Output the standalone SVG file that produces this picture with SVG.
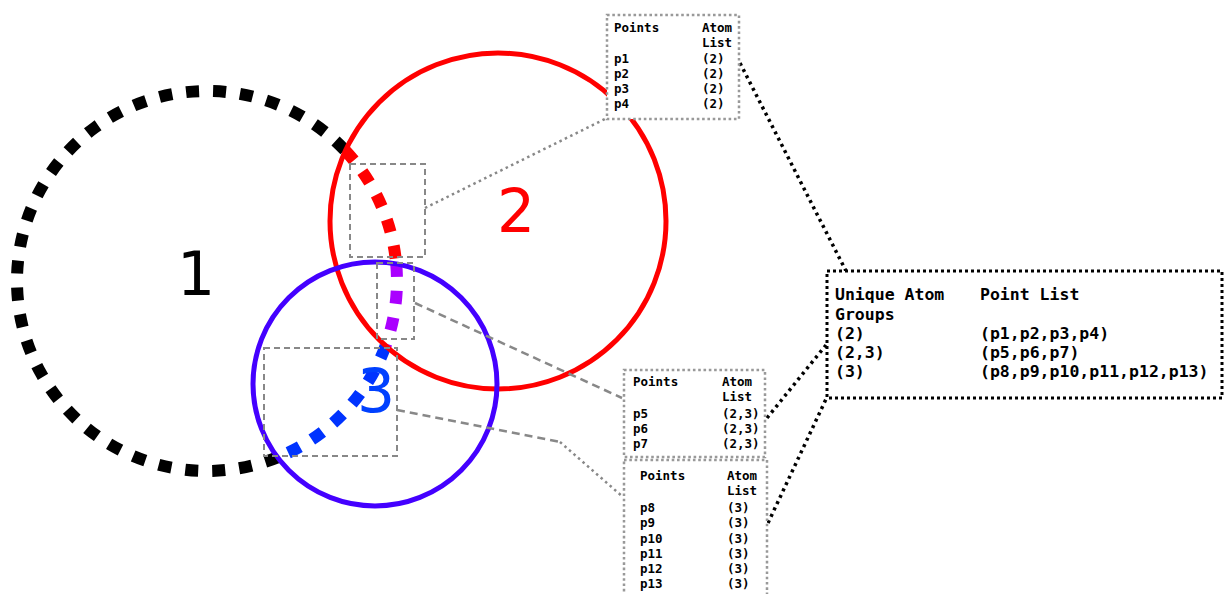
<svg xmlns="http://www.w3.org/2000/svg" width="1225" height="594" viewBox="0 0 1225 594">
  <style>
    .arc { fill: none; stroke-width: 12; stroke-dasharray: 13 14; }
    .ring { fill: none; stroke-width: 5; }
    .zoom { fill: none; stroke: #888; stroke-width: 2; stroke-dasharray: 6 4; }
    .tbl { fill: #fff; stroke: #999; stroke-width: 2.5; stroke-dasharray: 2.6 2.7; }
    .big { fill: #fff; stroke: #000; stroke-width: 3; stroke-dasharray: 3 3; }
    .lbl { font-family: "DejaVu Sans", sans-serif; font-size: 60px; text-anchor: middle; }
    .mono { font-family: "DejaVu Sans Mono", "Liberation Mono", monospace; font-weight: bold; font-size: 12.5px; fill: #000; }
    .mono-l { font-family: "DejaVu Sans Mono", "Liberation Mono", monospace; font-weight: bold; font-size: 16.5px; fill: #000; }
    .gdot { fill: none; stroke: #888; stroke-width: 2.5; stroke-dasharray: 2.5 3.5; }
    .gdash { fill: none; stroke: #888; stroke-width: 2.5; stroke-dasharray: 8 5; }
    .kdot { fill: none; stroke: #000; stroke-width: 3.5; stroke-dasharray: 3 4; }
  </style>

  <!-- atom 1: dotted circle, coloured where it lies inside atoms 2 and 3 -->
  <g id="atom1">
    <path class="arc" stroke="#000" d="M277.5,457.4 A190,190 0 1 1 345.3,150.7"/>
    <path class="arc" stroke="#ff0000" d="M345.3,150.7 A190,190 0 0 1 396.2,263.8"/>
    <path class="arc" stroke="#aa00ff" d="M396.2,263.8 A190,190 0 0 1 385.5,346"/>
    <path class="arc" stroke="#0033ff" d="M385.5,346 A190,190 0 0 1 277.5,457.4"/>
    <text class="lbl" x="196" y="295" fill="#000">1</text>
  </g>

  <g id="atom2">
    <circle class="ring" stroke="#ff0000" cx="498" cy="221" r="168"/>
    <text class="lbl" x="516" y="232" fill="#ff0000">2</text>
  </g>

  <g id="atom3">
    <circle class="ring" stroke="#4400ff" cx="375" cy="384" r="122"/>
    <text class="lbl" x="376" y="412" fill="#0040ff">3</text>
  </g>

  <!-- zoom regions on the surface -->
  <g id="region-a"><rect class="zoom" x="350" y="164" width="75" height="93"/></g>
  <g id="region-b"><rect class="zoom" x="377" y="263" width="37" height="76"/></g>
  <g id="region-c"><rect class="zoom" x="264" y="348" width="133" height="108"/></g>

  <!-- connectors -->
  <g id="connectors">
    <path class="gdot" d="M425,208 L607,118"/>
    <path class="gdash" d="M415,303 L622,398"/>
    <path class="gdash" d="M397,410 L560,442"/>
    <path class="gdot" d="M560,442 L623,497"/>
    <path class="kdot" d="M740,63 L846,271"/>
    <path class="kdot" d="M767,418 L826,345"/>
    <path class="kdot" d="M768,523 L827,397"/>
  </g>

  <!-- point tables -->
  <g id="table1">
    <rect class="tbl" x="607" y="15" width="132" height="104"/>
    <text class="mono" x="614" y="32">Points</text>
    <text class="mono" x="702" y="32">Atom</text>
    <text class="mono" x="702" y="47">List</text>
    <text class="mono" x="614" y="63">p1</text><text class="mono" x="702" y="63">(2)</text>
    <text class="mono" x="614" y="78">p2</text><text class="mono" x="702" y="78">(2)</text>
    <text class="mono" x="614" y="93">p3</text><text class="mono" x="702" y="93">(2)</text>
    <text class="mono" x="614" y="108">p4</text><text class="mono" x="702" y="108">(2)</text>
  </g>

  <g id="table2">
    <rect class="tbl" x="624" y="370" width="141" height="87"/>
    <text class="mono" x="633" y="386">Points</text>
    <text class="mono" x="722" y="386">Atom</text>
    <text class="mono" x="722" y="401">List</text>
    <text class="mono" x="633" y="418">p5</text><text class="mono" x="722" y="418">(2,3)</text>
    <text class="mono" x="633" y="433">p6</text><text class="mono" x="722" y="433">(2,3)</text>
    <text class="mono" x="633" y="448">p7</text><text class="mono" x="722" y="448">(2,3)</text>
  </g>

  <g id="table3">
    <rect class="tbl" x="624" y="460" width="143" height="140"/>
    <text class="mono" x="640" y="480">Points</text>
    <text class="mono" x="727" y="480">Atom</text>
    <text class="mono" x="727" y="495">List</text>
    <text class="mono" x="640" y="512">p8</text><text class="mono" x="727" y="512">(3)</text>
    <text class="mono" x="640" y="527">p9</text><text class="mono" x="727" y="527">(3)</text>
    <text class="mono" x="640" y="543">p10</text><text class="mono" x="727" y="543">(3)</text>
    <text class="mono" x="640" y="558">p11</text><text class="mono" x="727" y="558">(3)</text>
    <text class="mono" x="640" y="573">p12</text><text class="mono" x="727" y="573">(3)</text>
    <text class="mono" x="640" y="588">p13</text><text class="mono" x="727" y="588">(3)</text>
  </g>

  <!-- summary of unique atom groups -->
  <g id="summary">
    <rect class="big" x="827" y="271" width="395" height="127"/>
    <text class="mono-l" x="835" y="300">Unique Atom</text>
    <text class="mono-l" x="980" y="300">Point List</text>
    <text class="mono-l" x="835" y="320">Groups</text>
    <text class="mono-l" x="835" y="339">(2)</text>
    <text class="mono-l" x="980" y="339">(p1,p2,p3,p4)</text>
    <text class="mono-l" x="835" y="358">(2,3)</text>
    <text class="mono-l" x="980" y="358">(p5,p6,p7)</text>
    <text class="mono-l" x="835" y="377">(3)</text>
    <text class="mono-l" x="980" y="377">(p8,p9,p10,p11,p12,p13)</text>
  </g>
</svg>
